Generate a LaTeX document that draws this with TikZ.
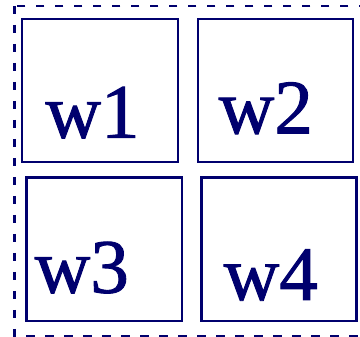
\documentclass[tikz,border=0pt]{standalone}
\usepackage{fontspec}
\setmainfont{Liberation Serif}
\newfontfamily\wfont[FakeBold=1.2]{Liberation Serif}
\definecolor{navyc}{RGB}{0,0,110}
\begin{document}
\begin{tikzpicture}[x=1pt,y=-1pt,
  wbox/.style={draw=navyc,line width=2.4pt,inner sep=0pt,rectangle},
  wlabel/.style={text=navyc,inner sep=0pt,anchor=base,font=\wfont\fontsize{77}{77}\selectfont},
  outer/.style={draw=navyc,line width=2.8pt,dash pattern=on 8.5pt off 10.5pt}]
\useasboundingbox (0,0) rectangle (360,337);
\clip (0,0) rectangle (360,337);
\fill[white] (0,0) rectangle (360,337);
\coordinate (o1) at (14.7,6);
\coordinate (o2) at (364,336.5);
\draw[outer] (o1) rectangle (o2);
\node[wbox,minimum width=156pt,minimum height=143pt] (b1) at (100.3,90.5) {};
\node[wbox,minimum width=155.3pt,minimum height=143pt] (b2) at (275.4,90.5) {};
\node[wbox,minimum width=155.8pt,minimum height=143.3pt] (b3) at (104.4,249.3) {};
\node[wbox,minimum width=154.8pt,minimum height=143.3pt] (b4) at (279.1,249.3) {};
\node[wlabel] (t1) at (92.5,137.7) {w1};
\node[wlabel] (t2) at (265.8,133.3) {w2};
\node[wlabel] (t3) at (81.8,292.7) {w3};
\node[wlabel] (t4) at (270.8,300) {w4};
\end{tikzpicture}
\end{document}
